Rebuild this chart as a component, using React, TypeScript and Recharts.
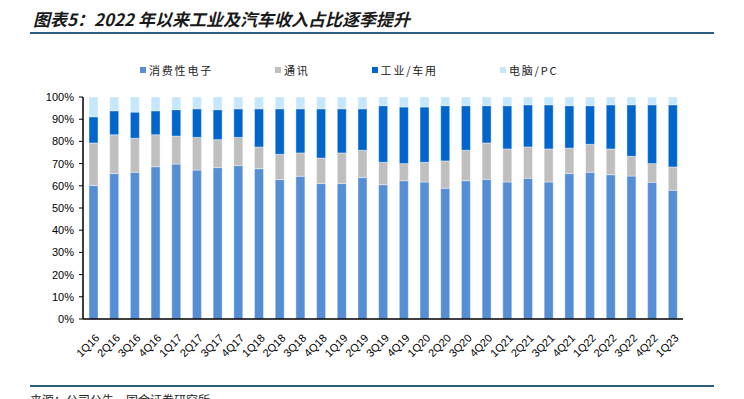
import { BarChart, Bar, XAxis, YAxis, Legend } from "recharts";

const quarters = [
  "1Q16", "2Q16", "3Q16", "4Q16", "1Q17", "2Q17", "3Q17", "4Q17",
  "1Q18", "2Q18", "3Q18", "4Q18", "1Q19", "2Q19", "3Q19", "4Q19",
  "1Q20", "2Q20", "3Q20", "4Q20", "1Q21", "2Q21", "3Q21", "4Q21",
  "1Q22", "2Q22", "3Q22", "4Q22", "1Q23",
];

// shares in %
const consumer = [60.1, 65.5, 66.1, 68.6, 69.8, 67.1, 68.2, 69.1, 67.7, 62.8, 64.3, 61.0, 61.0, 63.7, 60.5, 62.3, 61.7, 58.9, 62.3, 62.9, 61.7, 63.4, 61.7, 65.5, 66.1, 65.0, 64.4, 61.6, 58.0];
const telecom = [19.2, 17.5, 15.3, 14.4, 12.6, 14.7, 12.6, 12.7, 9.8, 11.4, 10.5, 11.5, 13.8, 12.3, 10.1, 7.7, 8.9, 12.3, 13.7, 16.4, 14.9, 14.1, 14.9, 11.5, 12.6, 11.6, 8.9, 8.4, 10.5];
const industrial = [11.8, 10.8, 11.8, 10.8, 11.9, 12.9, 13.5, 12.9, 17.2, 20.5, 19.9, 22.2, 19.9, 18.7, 25.5, 25.5, 24.9, 24.9, 20.1, 16.8, 19.5, 19.0, 19.9, 19.1, 17.4, 19.9, 23.2, 26.5, 28.0];
const pc = [8.9, 6.2, 6.8, 6.2, 5.7, 5.3, 5.7, 5.3, 5.3, 5.3, 5.3, 5.3, 5.3, 5.3, 3.9, 4.5, 4.5, 3.9, 3.9, 3.9, 3.9, 3.5, 3.5, 3.9, 3.9, 3.5, 3.5, 3.5, 3.5];

const yTicks = [0, 10, 20, 30, 40, 50, 60, 70, 80, 90, 100];

const series = [
  { key: "consumer", name: "消费性电子", color: "#558ED5" },
  { key: "telecom", name: "通讯", color: "#BFBFBF" },
  { key: "industrial", name: "工业/车用", color: "#0066CC" },
  { key: "pc", name: "电脑/PC", color: "#C6E7FB" },
];

const data = quarters.map((q, i) => ({
  q,
  consumer: consumer[i],
  telecom: telecom[i],
  industrial: industrial[i],
  pc: pc[i],
}));

const edgeTicks = quarters.map((_, i) => i).concat(quarters.length);

const QuarterTick = (props: any) => {
  const { x, y, payload } = props;
  return (
    <g transform={`translate(${x + 4},${y + 9})`}>
      <text
        x={0}
        y={0}
        dy="0.35em"
        textAnchor="end"
        transform="rotate(-45)"
        fontSize={11}
        fill="#000"
        fontFamily="'Liberation Sans', Arial, sans-serif"
      >
        {payload.value}
      </text>
    </g>
  );
};

const LegendRow = () => (
  <div
    style={{
      display: "flex",
      alignItems: "center",
      paddingLeft: 140,
      fontFamily: "'Noto Sans CJK SC', sans-serif",
      fontSize: 11,
      letterSpacing: 1.8,
      color: "#222",
    }}
  >
    {series.map((s) => (
      <div key={s.key} style={{ display: "flex", alignItems: "center", marginRight: 62 }}>
        <span style={{ width: 6, height: 6, background: s.color, marginRight: 3 }} />
        <span>{s.name}</span>
      </div>
    ))}
  </div>
);

export default function App() {
  return (
    <div style={{ position: "absolute", left: 0, top: 0, width: 744, height: 399, background: "#fff", overflow: "hidden" }}>
      <div
        style={{
          position: "absolute",
          left: 33,
          top: 6,
          fontFamily: "'Noto Sans CJK SC', sans-serif",
          fontWeight: 700,
          fontStyle: "italic",
          fontSize: 17,
          color: "#1a1a1a",
          whiteSpace: "nowrap",
        }}
      >
        图表5：2022 年以来工业及汽车收入占比逐季提升
      </div>
      <div style={{ position: "absolute", left: 30, top: 32, width: 684, height: 2, background: "#2E5E80" }} />
      <BarChart
        width={744}
        height={399}
        data={data}
        margin={{ top: 97, right: 61, bottom: 30, left: 38 }}
        barSize={9}
      >
        <XAxis
          xAxisId="edge"
          type="number"
          domain={[0, quarters.length]}
          ticks={edgeTicks}
          tick={false}
          axisLine={false}
          tickLine={{ stroke: "#000" }}
          tickSize={4}
          height={0}
          allowDataOverflow
        />
        <XAxis
          dataKey="q"
          interval={0}
          tick={<QuarterTick />}
          tickLine={false}
          axisLine={{ stroke: "#000", strokeWidth: 1.5 }}
          height={50}
        />
        <YAxis
          domain={[0, 100]}
          ticks={yTicks}
          tickFormatter={(v) => `${v}%`}
          axisLine={{ stroke: "#000", strokeWidth: 1.5 }}
          tickLine={{ stroke: "#000" }}
          tickSize={4}
          tickMargin={5}
          width={45}
          tick={{ fontSize: 11, fill: "#000", fontFamily: "'Liberation Sans', Arial, sans-serif" }}
        />
        <Legend
          layout="horizontal"
          verticalAlign="middle"
          align="center"
          wrapperStyle={{ top: 62, left: 0, width: 744 }}
          content={() => <LegendRow />}
        />
        {series.map((s) => (
          <Bar
            key={s.key}
            dataKey={s.key}
            name={s.name}
            stackId="a"
            fill={s.color}
            stroke="#fff"
            strokeWidth={0.4}
            isAnimationActive={false}
          />
        ))}
      </BarChart>
      <div style={{ position: "absolute", left: 30, top: 385, width: 684, height: 2, background: "#2E5E80" }} />
      <div
        style={{
          position: "absolute",
          left: 30,
          top: 391,
          fontFamily: "'Noto Sans CJK SC', sans-serif",
          fontSize: 12,
          color: "#222",
          whiteSpace: "nowrap",
        }}
      >
        来源：公司公告，国金证券研究所
      </div>
    </div>
  );
}
